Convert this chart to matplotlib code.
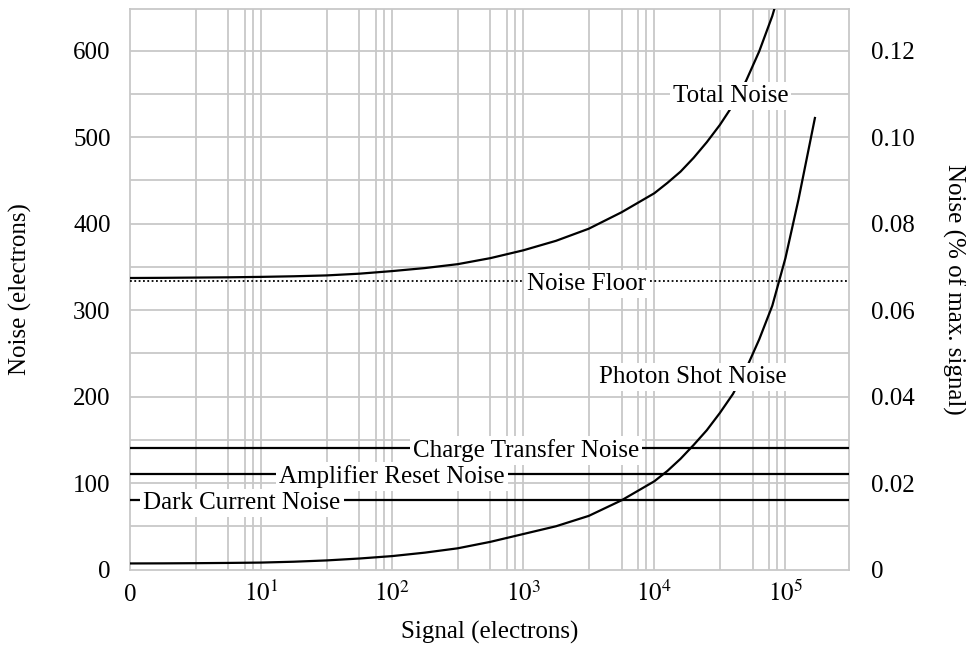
import numpy as np
import matplotlib
matplotlib.use("Agg")
import matplotlib.pyplot as plt

plt.rcParams['font.family'] = ['Liberation Serif', 'DejaVu Serif']
plt.rcParams['mathtext.fontset'] = 'stix'

# signal positions in decades (0 -> "0", 1 -> 10^1, ...)
shot_dec = [0, 0.25, 0.5, 0.75, 1.0, 1.25, 1.5, 1.75, 2.0, 2.25, 2.5, 2.75,
            3.0, 3.25, 3.5, 3.75, 4.0, 4.1, 4.2, 4.3, 4.4, 4.5, 4.6, 4.7,
            4.8, 4.9, 5.0, 5.1, 5.225]
shot_noise = [7, 7.1, 7.3, 7.6, 8, 9, 10.5, 12.7, 15.5, 19.5, 24.5, 32,
              41, 50, 62, 80, 102, 114, 128, 144, 161, 181, 203, 232,
              266, 305, 360, 428, 522]

total_dec = [0, 0.25, 0.5, 0.75, 1.0, 1.25, 1.5, 1.75, 2.0, 2.25, 2.5, 2.75,
             3.0, 3.25, 3.5, 3.75, 4.0, 4.1, 4.2, 4.3, 4.4, 4.5, 4.6, 4.7,
             4.8, 4.9, 5.0]
total_noise = [337, 337.2, 337.5, 337.8, 338.3, 339, 340, 342, 345, 348.5,
               353, 360, 369, 380, 394, 413, 435, 447, 460, 476, 494, 514,
               537, 565, 599, 640, 692]

noise_floor = 333
charge_transfer = 140
amp_reset = 110
dark_current = 80

x_ticks = [0, 1, 2, 3, 4, 5]
x_labels = ['0', r'$10^{1}$', r'$10^{2}$', r'$10^{3}$', r'$10^{4}$', r'$10^{5}$']
y_ticks = [0, 100, 200, 300, 400, 500, 600]
y2_ticks = [0, 0.02, 0.04, 0.06, 0.08, 0.10, 0.12]
y2_labels = ['0', '0.02', '0.04', '0.06', '0.08', '0.10', '0.12']

xmax = 5.485
ymax = 648
grid_col = '#c8c8c8'

fig = plt.figure(figsize=(9.66, 6.46), dpi=100)
ax = fig.add_axes([130/966, 1-569.5/646, 719/966, 560.5/646])

# grid: integer decades plus the halving sub-lines
minor_x = []
for k in range(6):
    for f in [0.5, 0.75, 0.875, 0.9375]:
        if k + f < xmax:
            minor_x.append(k + f)
for xv in minor_x + x_ticks[1:]:
    ax.axvline(xv, color=grid_col, lw=1.3, zorder=1)
for yv in np.arange(50, ymax, 50):
    ax.axhline(yv, color=grid_col, lw=1.3, zorder=1)

lw = 1.6
ax.plot(total_dec, total_noise, color='black', lw=lw, zorder=3)
ax.plot(shot_dec, shot_noise, color='black', lw=lw, zorder=3)
ax.axhline(noise_floor, color='black', lw=1.3, ls=(0, (1, 1.4)), zorder=3)
ax.axhline(charge_transfer, color='black', lw=lw, zorder=3)
ax.axhline(amp_reset, color='black', lw=lw, zorder=3)
ax.axhline(dark_current, color='black', lw=lw, zorder=3)

box = dict(boxstyle='square,pad=0.12', facecolor='white', edgecolor='none')
def lab(x, y, s):
    ax.text(x, y, s, fontsize=18, ha='center', va='center_baseline',
            bbox=box, zorder=5)

lab(4.58, 550, 'Total Noise')
lab(3.48, noise_floor, 'Noise Floor')
lab(4.29, 225, 'Photon Shot Noise')
lab(3.02, charge_transfer, 'Charge Transfer Noise')
lab(2.0, amp_reset, 'Amplifier Reset Noise')
lab(0.855, dark_current, 'Dark Current Noise')

ax.set_xlim(0, xmax)
ax.set_ylim(0, ymax)
for sp in ax.spines.values():
    sp.set_color(grid_col)
    sp.set_linewidth(1.3)

ax.set_xticks(x_ticks)
ax.set_xticklabels(x_labels, fontsize=18)
ax.tick_params(axis='x', length=0, pad=22.5)
for t in ax.get_xticklabels():
    t.set_verticalalignment('baseline')
ax.set_yticks(y_ticks)
ax.set_yticklabels([str(v) for v in y_ticks], fontsize=18)
ax.tick_params(axis='y', length=0, pad=14)

ax2 = ax.twinx()
ax2.set_ylim(0, ymax / 5000)
ax2.set_yticks(y2_ticks)
ax2.set_yticklabels(y2_labels, fontsize=18)
ax2.tick_params(axis='y', length=0, pad=16)
for sp in ax2.spines.values():
    sp.set_visible(False)

fig.text(20/966, 1-289/646, 'Noise (electrons)', fontsize=18,
         rotation=90, ha='center', va='center')
fig.text(954/966, 1-289/646, 'Noise (% of max. signal)', fontsize=18,
         rotation=270, ha='center', va='center')
fig.text(489.5/966, 1-632/646, 'Signal (electrons)', fontsize=18,
         ha='center', va='center')

fig.savefig('out.png', dpi=100)
